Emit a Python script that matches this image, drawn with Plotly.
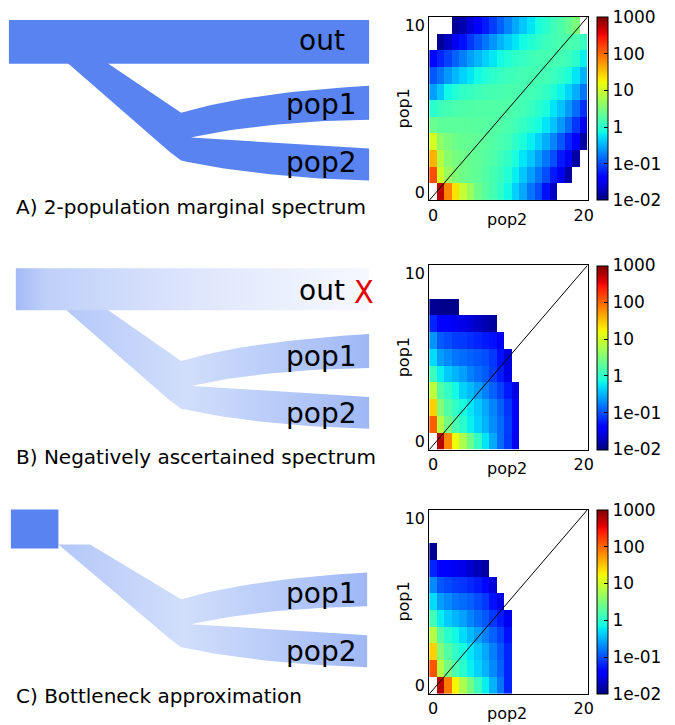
import plotly.graph_objects as go

N = None
# ---------------- data (log10 of expected site counts) ----------------
POP2_COUNTS = list(range(21))   # x: derived allele count in pop2
POP1_COUNTS = list(range(11))   # y: derived allele count in pop1

A_LOG = [
    [N, 2.75, 1.85, 1.35, 0.95, 0.68, 0.42, 0.27, 0.17, 0.03, -0.15, -0.35, -0.55, -0.8, -1.0, -1.3, -1.7, N, N, N, N],
    [2.15, 1.0, 0.68, 0.52, 0.42, 0.37, 0.32, 0.25, 0.17, 0.08, -0.05, -0.2, -0.4, -0.6, -0.8, -1.0, -1.25, -1.5, -1.85, N, N],
    [1.6, 0.85, 0.58, 0.47, 0.42, 0.37, 0.32, 0.27, 0.22, 0.13, 0.03, -0.1, -0.25, -0.4, -0.6, -0.8, -1.0, -1.25, -1.5, -1.85, N],
    [1.05, 0.62, 0.48, 0.4, 0.36, 0.35, 0.33, 0.3, 0.25, 0.2, 0.14, 0.03, -0.08, -0.2, -0.35, -0.52, -0.72, -0.95, -1.2, -1.45, -1.85],
    [0.38, 0.3, 0.3, 0.3, 0.3, 0.29, 0.28, 0.27, 0.26, 0.24, 0.2, 0.14, 0.06, -0.02, -0.12, -0.25, -0.42, -0.62, -0.85, -1.12, -1.5],
    [0.0, 0.1, 0.17, 0.2, 0.22, 0.23, 0.24, 0.24, 0.24, 0.24, 0.23, 0.2, 0.15, 0.08, 0.0, -0.1, -0.25, -0.42, -0.62, -0.85, -1.15],
    [-0.6, -0.4, -0.15, -0.05, 0.04, 0.08, 0.12, 0.15, 0.17, 0.18, 0.19, 0.19, 0.18, 0.15, 0.12, 0.05, -0.05, -0.18, -0.33, -0.52, -0.8],
    [-0.95, -0.8, -0.62, -0.47, -0.35, -0.24, -0.14, -0.06, 0.02, 0.07, 0.11, 0.14, 0.16, 0.17, 0.17, 0.15, 0.1, 0.02, -0.08, -0.25, -0.5],
    [-1.35, -1.2, -1.05, -0.9, -0.75, -0.6, -0.47, -0.35, -0.24, -0.14, -0.05, 0.02, 0.07, 0.12, 0.15, 0.17, 0.18, 0.16, 0.1, 0.0, -0.2],
    [N, -1.9, -1.7, -1.5, -1.3, -1.12, -0.95, -0.8, -0.65, -0.5, -0.37, -0.25, -0.14, -0.05, 0.03, 0.1, 0.15, 0.2, 0.22, 0.18, 0.07],
    [N, N, N, -1.9, -1.78, -1.6, -1.43, -1.25, -1.07, -0.9, -0.72, -0.55, -0.4, -0.25, -0.12, 0.0, 0.12, 0.22, 0.35, 0.5, N],
]

B_LOG = [
    [N, 2.75, 1.85, 1.2, 0.8, 0.4, 0.05, -0.25, -0.55, -0.85, -1.1, -1.5, N, N, N, N, N, N, N, N, N],
    [2.05, 0.85, 0.45, 0.2, 0.0, -0.2, -0.35, -0.5, -0.68, -0.85, -1.08, -1.42, N, N, N, N, N, N, N, N, N],
    [1.45, 0.55, 0.25, 0.05, -0.1, -0.25, -0.4, -0.55, -0.72, -0.9, -1.12, -1.45, N, N, N, N, N, N, N, N, N],
    [0.9, 0.25, 0.05, -0.15, -0.35, -0.45, -0.6, -0.75, -0.9, -1.05, -1.25, -1.55, N, N, N, N, N, N, N, N, N],
    [0.1, -0.2, -0.39, -0.49, -0.59, -0.74, -0.84, -0.93, -1.08, -1.25, -1.55, N, N, N, N, N, N, N, N, N, N],
    [-0.3, -0.6, -0.7, -0.8, -0.85, -0.9, -0.95, -1.0, -1.1, -1.3, -1.6, N, N, N, N, N, N, N, N, N, N],
    [-0.65, -0.93, -1.0, -1.08, -1.1, -1.15, -1.2, -1.25, -1.3, -1.5, N, N, N, N, N, N, N, N, N, N, N],
    [-1.2, -1.4, -1.45, -1.5, -1.55, -1.62, -1.7, -1.78, -1.88, N, N, N, N, N, N, N, N, N, N, N, N],
    [-1.9, -1.95, -1.95, -1.95, N, N, N, N, N, N, N, N, N, N, N, N, N, N, N, N, N],
    [N] * 21,
    [N] * 21,
]

C_LOG = [
    [N, 2.75, 1.9, 1.25, 0.8, 0.45, 0.1, -0.2, -0.5, -0.8, -1.2, N, N, N, N, N, N, N, N, N, N],
    [2.1, 0.85, 0.45, 0.2, 0.0, -0.2, -0.35, -0.5, -0.7, -0.9, -1.2, N, N, N, N, N, N, N, N, N, N],
    [1.45, 0.55, 0.25, 0.05, -0.1, -0.25, -0.4, -0.55, -0.75, -0.95, -1.2, N, N, N, N, N, N, N, N, N, N],
    [0.85, 0.25, 0.0, -0.15, -0.3, -0.45, -0.6, -0.75, -0.9, -1.05, -1.3, N, N, N, N, N, N, N, N, N, N],
    [0.15, -0.2, -0.38, -0.48, -0.58, -0.72, -0.84, -0.95, -1.1, -1.25, -1.5, N, N, N, N, N, N, N, N, N, N],
    [-0.3, -0.6, -0.7, -0.8, -0.85, -0.9, -1.0, -1.1, -1.3, -1.55, N, N, N, N, N, N, N, N, N, N, N],
    [-0.7, -0.95, -1.02, -1.08, -1.12, -1.18, -1.25, -1.35, -1.6, N, N, N, N, N, N, N, N, N, N, N, N],
    [-1.2, -1.4, -1.45, -1.5, -1.55, -1.65, -1.75, -1.85, N, N, N, N, N, N, N, N, N, N, N, N, N],
    [-1.9, N, N, N, N, N, N, N, N, N, N, N, N, N, N, N, N, N, N, N, N],
    [N] * 21,
    [N] * 21,
]

X_TICKS = [0, 20]
Y_TICKS = [0, 10]
X_RANGE = [-0.5, 20.5]
Y_RANGE = [-0.5, 10.5]
CB_TICKVALS = [-2, -1, 0, 1, 2, 3]
CB_TICKTEXT = ["1e-02", "1e-01", "1", "10", "100", "1000"]
CAPTIONS = ["A) 2-population marginal spectrum",
            "B) Negatively ascertained spectrum",
            "C) Bottleneck approximation"]

# ---------------- layout helpers ----------------
W, H = 675, 725
FONT = "DejaVu Sans"

JET = [[0, 'rgb(0,0,128)'], [0.11, 'rgb(0,0,255)'], [0.125, 'rgb(0,0,255)'],
       [0.34, 'rgb(0,219,255)'], [0.35, 'rgb(0,229,247)'], [0.375, 'rgb(21,255,226)'],
       [0.64, 'rgb(238,255,8)'], [0.65, 'rgb(247,245,0)'], [0.66, 'rgb(255,236,0)'],
       [0.89, 'rgb(255,19,0)'], [0.91, 'rgb(232,0,0)'], [1, 'rgb(128,0,0)']]

HM_X = (432.7, 592.7)
HM_Y = [(16, 200), (265, 450), (510, 695)]
CB_X = 602.7


def fx(x):
    return x / W


def fy(y):
    return 1 - y / H


fig = go.Figure()

panels = [A_LOG, B_LOG, C_LOG]
for i, (zlog, (top, bot)) in enumerate(zip(panels, HM_Y)):
    sfx = "" if i == 0 else str(i + 1)
    fig.add_trace(go.Heatmap(
        z=zlog, x=POP2_COUNTS, y=POP1_COUNTS, zmin=-2, zmax=3,
        colorscale=JET, hoverongaps=False,
        xaxis="x" + sfx, yaxis="y" + sfx,
        colorbar=dict(
            x=fx(CB_X), xanchor="left", xref="paper",
            y=fy((top + bot) / 2), yanchor="middle", yref="paper",
            len=(bot - top) / H, lenmode="fraction",
            thickness=10.6, thicknessmode="pixels",
            outlinewidth=1, outlinecolor="black",
            ticks="inside", ticklen=4, tickcolor="black",
            tickvals=CB_TICKVALS, ticktext=CB_TICKTEXT,
            tickfont=dict(size=17, color="black", family=FONT),
            xpad=0, ypad=0,
        ),
    ))
    fig.add_trace(go.Scatter(
        x=[X_RANGE[0], X_RANGE[1]], y=[Y_RANGE[0], Y_RANGE[1]],
        mode="lines", line=dict(color="black", width=1),
        xaxis="x" + sfx, yaxis="y" + sfx, hoverinfo="skip", showlegend=False,
    ))
    axis_common = dict(showline=True, mirror=True, linecolor="black", linewidth=1,
                       showgrid=False, zeroline=False, ticks="",
                       tickfont=dict(size=16, color="black", family=FONT))
    fig.update_layout(**{
        "xaxis" + sfx: dict(domain=[fx(HM_X[0]), fx(HM_X[1])], range=X_RANGE,
                            tickvals=X_TICKS, anchor="y" + sfx, **axis_common),
        "yaxis" + sfx: dict(domain=[fy(bot), fy(top)], range=Y_RANGE,
                            tickvals=Y_TICKS, anchor="x" + sfx, **axis_common),
    })

# pixel-coordinate overlay axes for the tree diagrams
fig.update_layout(
    xaxis4=dict(domain=[0, 1], range=[0, W], visible=False, anchor="y4"),
    yaxis4=dict(domain=[0, 1], range=[H, 0], visible=False, anchor="x4"),
)


def qbez(p0, c, p1, n=24):
    pts = []
    for k in range(1, n + 1):
        t = k / n
        pts.append(((1 - t) ** 2 * p0[0] + 2 * (1 - t) * t * c[0] + t * t * p1[0],
                    (1 - t) ** 2 * p0[1] + 2 * (1 - t) * t * c[1] + t * t * p1[1]))
    return pts


def fork_outline(tl, tr, dy, xr):
    pts = [tl, tr, (182, 112 + dy)]
    pts += qbez((182, 112 + dy), (250, 92 + dy), (xr, 85 + dy))
    pts += [(xr, 119 + dy)]
    pts += qbez((xr, 119 + dy), (262, 121 + dy), (192, 137 + dy))
    pts += qbez((192, 137 + dy), (262, 141 + dy), (xr, 148 + dy))
    pts += [(xr, 180 + dy)]
    pts += qbez((xr, 180 + dy), (262, 177 + dy), (182, 160 + dy))
    pts += [(170, 151 + dy), tl]
    return pts


def rect(x0, y0, x1, y1):
    return [(x0, y0), (x1, y0), (x1, y1), (x0, y1), (x0, y0)]


SOLID = "rgb(88,131,240)"
BAR_FADE = [[0, "rgb(163,186,246)"], [0.08, "rgb(190,207,249)"],
            [0.5, "rgb(222,230,252)"], [1, "rgb(247,249,255)"]]
FORK_FADE = [[0, "rgb(180,199,248)"], [0.4, "rgb(209,222,251)"], [1, "rgb(158,183,245)"]]


def add_poly(pts, color=None, grad=None, start=None, stop=None):
    kw = dict(x=[p[0] for p in pts], y=[p[1] for p in pts], mode="lines",
              line=dict(width=0), fill="toself", xaxis="x4", yaxis="y4",
              hoverinfo="skip", showlegend=False)
    if grad is not None:
        kw["fillgradient"] = dict(type="horizontal", colorscale=grad, start=start, stop=stop)
        kw["fillcolor"] = grad[-1][1]
    else:
        kw["fillcolor"] = color
    fig.add_trace(go.Scatter(**kw))


# A
add_poly(fork_outline((67, 62), (107, 62), 0, 372), color=SOLID)
add_poly(rect(8, 19, 372, 63), color=SOLID)
# B
add_poly(fork_outline((65, 309), (107, 309), 249, 372), grad=FORK_FADE, start=62, stop=372)
add_poly(rect(15, 268, 372, 310), grad=BAR_FADE, start=15, stop=372)
# C
add_poly(fork_outline((58, 545), (90, 545), 488, 370), grad=FORK_FADE, start=58, stop=370)
add_poly(rect(10, 510, 58, 549), color=SOLID)

ann = []


def txt(x, y, s, size, xanchor="center", color="black", angle=0, family=FONT):
    ann.append(dict(x=x, y=y, xref="x4", yref="y4", text=s, showarrow=False,
                    xanchor=xanchor, yanchor="middle", textangle=angle,
                    font=dict(size=size, color=color, family=family)))


# tree labels
txt(350, 40, "out", 28, xanchor="right")
txt(362, 104, "pop1", 28, xanchor="right")
txt(362, 162, "pop2", 28, xanchor="right")
txt(350, 290, "out", 28, xanchor="right")
txt(367, 292, "X", 32, color="rgb(230,0,0)", family="DejaVu Sans Condensed, DejaVu Sans")
txt(362, 356, "pop1", 28, xanchor="right")
txt(362, 414, "pop2", 28, xanchor="right")
txt(362, 594, "pop1", 28, xanchor="right")
txt(362, 652, "pop2", 28, xanchor="right")
# captions
for cap, cy in zip(CAPTIONS, [207, 457, 697]):
    txt(13, cy, cap, 20, xanchor="left")
# heatmap axis titles
for (top, bot) in HM_Y:
    txt(511, bot + 19, "pop2", 16)
    txt(407, (top + bot) / 2, "pop1", 16, angle=-90)

fig.update_layout(
    width=W, height=H, margin=dict(l=0, r=0, t=0, b=0),
    paper_bgcolor="white", plot_bgcolor="rgba(0,0,0,0)",
    font=dict(family=FONT, color="black"),
    showlegend=False, annotations=ann,
)

fig.write_html("out.html", config={"displayModeBar": False},
               post_script="document.body.style.margin='0';document.body.style.overflow='hidden';")
